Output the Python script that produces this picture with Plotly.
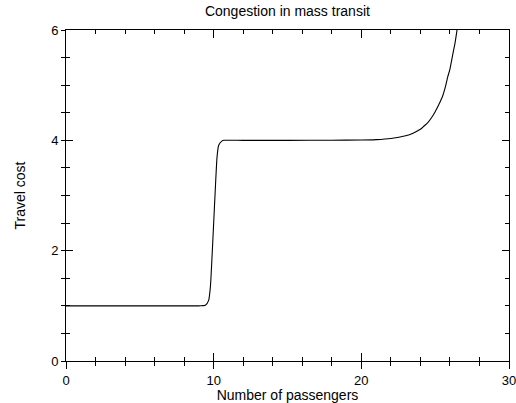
import plotly.graph_objects as go

# Data
passengers = [0, 3, 6, 9, 9.44, 9.66, 9.78, 9.9, 10.0, 10.1, 10.23, 10.34, 10.57, 10.68,
              12, 15, 18, 20, 21, 22, 23, 23.5, 24, 24.25, 24.5, 24.75, 25, 25.25, 25.5, 25.7,
              25.85, 26.0, 26.18, 26.35, 26.48, 26.7]
travel_cost = [1.0, 1.0, 1.0, 1.0, 1.01, 1.10, 1.35, 1.95, 2.5, 3.05, 3.70, 3.91, 3.99, 4.0,
               4.0, 4.0, 4.002, 4.005, 4.013, 4.034, 4.084, 4.13, 4.20, 4.26, 4.32, 4.41, 4.52,
               4.65, 4.80, 4.98, 5.15, 5.29, 5.54, 5.77, 6.0, 6.4]

x_ticks = [0, 10, 20, 30]
y_ticks = [0, 2, 4, 6]

FONT = "Liberation Sans, Arial, sans-serif"

fig = go.Figure()
fig.add_trace(go.Scatter(x=passengers, y=travel_cost, mode="lines",
                         line=dict(color="black", width=1.1, shape="spline", smoothing=0.6),
                         hoverinfo="skip", showlegend=False))
# dummy trace so the overlay axes are drawn
fig.add_trace(go.Scatter(x=[None], y=[None], xaxis="x2", yaxis="y2", showlegend=False))

common = dict(showgrid=False, zeroline=False, showline=True, linecolor="black", linewidth=1,
              tickcolor="black", tickwidth=1, automargin=False)

fig.update_layout(
    width=516, height=403,
    margin=dict(l=66, r=7, t=30, b=42),
    paper_bgcolor="white", plot_bgcolor="white",
    font=dict(family=FONT, size=13, color="black"),
    title=dict(text="Congestion in mass transit", x=0.557, xanchor="center",
               y=1 - 11 / 403, yanchor="middle", yref="container", automargin=False,
               font=dict(size=14, family=FONT, color="black")),
    xaxis=dict(range=[0, 30], tickvals=x_ticks, ticks="outside", ticklen=7, mirror=True,
               ticklabeloverflow="allow",
               minor=dict(dtick=2, ticks="outside", ticklen=4, tickcolor="black"),
               title=dict(text="Number of passengers", font=dict(size=14), standoff=1),
               **common),
    yaxis=dict(range=[0, 6], tickvals=y_ticks, ticks="outside", ticklen=4, mirror=True,
               ticklabeloverflow="allow",
               minor=dict(dtick=0.5, ticks="outside", ticklen=4, tickcolor="black"),
               title=dict(text="Travel cost", font=dict(size=14), standoff=22),
               **common),
    xaxis2=dict(range=[0, 30], overlaying="x", tickvals=x_ticks, ticks="inside", ticklen=8,
                mirror="ticks", showticklabels=False,
                minor=dict(dtick=2, ticks="inside", ticklen=4, tickcolor="black"),
                **common),
    yaxis2=dict(range=[0, 6], overlaying="y", tickvals=y_ticks, ticks="inside", ticklen=7,
                mirror="ticks", showticklabels=False,
                minor=dict(dtick=0.5, ticks="inside", ticklen=4, tickcolor="black"),
                **common),
)

fig.write_html("out.html", config={"displayModeBar": False},
               post_script="document.body.style.margin='0px';")
